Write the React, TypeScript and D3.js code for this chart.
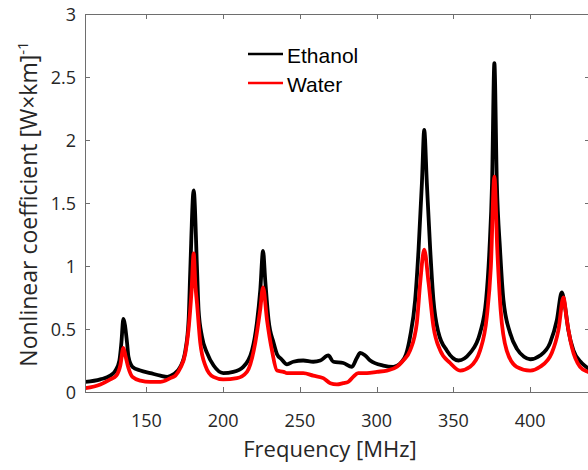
import * as d3 from "d3"
import { useEffect, useRef } from "react"

// Frequency samples (MHz) and values
const ethanolFreq = [
  110.3, 120.0, 126.5, 129.8, 132.4, 133.7, 135.0, 137.4, 138.3, 140.9, 146.1,
  152.6, 159.1, 163.6, 167.6, 172.1, 175.4, 177.5, 178.6, 180.8, 183.0, 184.0,
  186.2, 189.5, 193.8, 200.1, 206.6, 213.1, 218.8, 222.0, 224.2, 226.0, 227.4,
  229.6, 232.9, 235.1, 238.0, 241.6, 245.7, 252.2, 258.7, 263.3, 268.5, 271.8,
  278.3, 283.9, 287.1, 289.3, 292.5, 295.8, 304.3, 310.8, 316.4, 319.2, 321.8,
  325.1, 327.3, 329.5, 331.0, 332.7, 334.9, 337.0, 340.3, 345.7, 353.3, 360.9,
  367.4, 371.3, 373.5, 375.2, 376.7, 378.3, 380.4, 382.6, 386.9, 391.5, 396.0,
  400.0, 406.5, 413.0, 417.4, 420.6, 422.7, 424.9, 428.2, 433.6, 437.6, 440.0,
]
const ethanolValue = [
  0.08, 0.1, 0.13, 0.17, 0.25, 0.39, 0.58, 0.39, 0.28, 0.2, 0.17,
  0.15, 0.13, 0.12, 0.14, 0.2, 0.33, 0.57, 0.97, 1.6, 0.97, 0.65,
  0.44, 0.31, 0.21, 0.15, 0.16, 0.2, 0.33, 0.55, 0.81, 1.12, 0.89,
  0.57, 0.39, 0.3, 0.26, 0.22, 0.24, 0.25, 0.24, 0.25, 0.29, 0.24,
  0.23, 0.2, 0.27, 0.31, 0.29, 0.25, 0.21, 0.2, 0.24, 0.3, 0.44,
  0.73, 1.13, 1.66, 2.08, 1.66, 1.13, 0.73, 0.47, 0.33, 0.25, 0.31,
  0.47, 0.73, 1.13, 1.66, 2.61, 1.66, 1.13, 0.73, 0.47, 0.34, 0.28,
  0.26, 0.29, 0.39, 0.57, 0.79, 0.68, 0.49, 0.33, 0.23, 0.19, 0.17,
]

const waterFreq = [
  110.3, 120.0, 126.5, 130.4, 133.0, 135.0, 136.3, 138.3, 140.9, 146.1, 152.6,
  159.1, 165.6, 168.9, 172.1, 175.4, 177.4, 179.4, 180.8, 181.9, 183.0, 185.1,
  188.4, 193.6, 200.1, 209.0, 215.5, 220.9, 224.1, 226.0, 228.6, 231.8, 235.1,
  239.4, 241.6, 252.2, 258.7, 265.2, 269.8, 274.1, 278.2, 281.5, 284.7, 288.0,
  293.7, 300.2, 306.7, 313.2, 317.3, 321.8, 326.2, 328.4, 331.0, 333.8, 337.0,
  341.4, 347.9, 354.4, 360.9, 367.4, 371.8, 374.4, 376.7, 378.6, 380.8, 384.7,
  391.2, 400.0, 406.5, 414.1, 418.4, 421.7, 423.9, 427.1, 432.5, 437.6, 440.0,
]
const waterValue = [
  0.03, 0.06, 0.1, 0.13, 0.21, 0.35, 0.29, 0.19, 0.12, 0.09, 0.08,
  0.08, 0.11, 0.13, 0.19, 0.31, 0.49, 0.8, 1.1, 0.85, 0.7, 0.39,
  0.21, 0.12, 0.1, 0.11, 0.16, 0.39, 0.65, 0.83, 0.57, 0.33, 0.17,
  0.16, 0.15, 0.15, 0.13, 0.11, 0.07, 0.06, 0.07, 0.08, 0.12, 0.15,
  0.15, 0.16, 0.17, 0.2, 0.25, 0.33, 0.55, 0.87, 1.13, 0.87, 0.52,
  0.33, 0.23, 0.17, 0.2, 0.33, 0.6, 0.99, 1.71, 1.13, 0.65, 0.33,
  0.2, 0.17, 0.2, 0.31, 0.49, 0.75, 0.57, 0.36, 0.2, 0.16, 0.15,
]

const xTicks = [150, 200, 250, 300, 350, 400]
const yTicks = [0, 0.5, 1, 1.5, 2, 2.5, 3]

const series = [
  { name: "Ethanol", color: "#000000", freq: ethanolFreq, value: ethanolValue },
  { name: "Water", color: "#ff0000", freq: waterFreq, value: waterValue },
]

const App = () => {
  const svgRef = useRef<SVGSVGElement | null>(null)

  useEffect(() => {
    if (!svgRef.current) return
    const svg = d3.select(svgRef.current)
    svg.selectAll("*").remove()

    const width = 588
    const height = 470
    const left = 85
    const right = 590
    const top = 14
    const bottom = 392
    const axisColor = "#262626"
    const boxColor = "#6e6e6e"
    const tickFont = "'Open Sans', sans-serif"

    svg.attr("width", width).attr("height", height)

    const x = d3.scaleLinear().domain([110, 439]).range([left, right])
    const y = d3.scaleLinear().domain([0, 3]).range([bottom, top])

    const plot = svg.append("g")

    // Data lines
    const line = d3
      .line<[number, number]>()
      .x((d) => x(d[0]))
      .y((d) => y(d[1]))
      .curve(d3.curveMonotoneX)

    series.forEach((s) => {
      const pts = s.freq.map((f, i) => [f, s.value[i]] as [number, number])
      plot
        .append("path")
        .attr("d", line(pts)!)
        .attr("fill", "none")
        .attr("stroke", s.color)
        .attr("stroke-width", 3.8)
        .attr("stroke-linejoin", "round")
    })

    // Box
    plot
      .append("rect")
      .attr("x", left + 0.5)
      .attr("y", top + 0.5)
      .attr("width", right - left)
      .attr("height", bottom - top)
      .attr("fill", "none")
      .attr("stroke", boxColor)
      .attr("stroke-width", 1)

    // X ticks (inward, bottom + top)
    xTicks.forEach((t) => {
      const xp = Math.round(x(t)) + 0.5
      plot.append("line").attr("x1", xp).attr("x2", xp).attr("y1", bottom).attr("y2", bottom - 5).attr("stroke", boxColor)
      plot.append("line").attr("x1", xp).attr("x2", xp).attr("y1", top).attr("y2", top + 5).attr("stroke", boxColor)
      plot
        .append("text")
        .attr("x", x(t))
        .attr("y", 427)
        .attr("text-anchor", "middle")
        .style("font", `18px ${tickFont}`)
        .attr("fill", axisColor)
        .text(t)
    })

    // Y ticks (inward, left + right)
    yTicks.forEach((t) => {
      const yp = Math.round(y(t)) + 0.5
      plot.append("line").attr("x1", left).attr("x2", left + 5).attr("y1", yp).attr("y2", yp).attr("stroke", boxColor)
      plot.append("line").attr("x1", right).attr("x2", right - 5).attr("y1", yp).attr("y2", yp).attr("stroke", boxColor)
      plot
        .append("text")
        .attr("x", 76)
        .attr("y", y(t) + 6.5)
        .attr("text-anchor", "end")
        .style("font", `18px ${tickFont}`)
        .attr("fill", axisColor)
        .text(String(t))
    })

    // Axis titles
    plot
      .append("text")
      .attr("x", 330)
      .attr("y", 457)
      .attr("text-anchor", "middle")
      .style("font", `22px ${tickFont}`)
      .attr("fill", axisColor)
      .text("Frequency [MHz]")

    const yLabel = plot
      .append("text")
      .attr("transform", `translate(37,204) rotate(-90)`)
      .attr("text-anchor", "middle")
      .style("font", `23px ${tickFont}`)
      .attr("fill", axisColor)
    yLabel.append("tspan").text("Nonlinear coefficient [W×km]")
    yLabel.append("tspan").attr("dy", -9).style("font-size", "15px").text("-1")

    // Legend
    series.forEach((s, i) => {
      const ly = 54 + i * 29
      plot
        .append("line")
        .attr("x1", 248)
        .attr("x2", 283)
        .attr("y1", ly)
        .attr("y2", ly)
        .attr("stroke", s.color)
        .attr("stroke-width", 2.5)
      plot
        .append("text")
        .attr("x", 287)
        .attr("y", ly + 9)
        .style("font", "21px 'Liberation Sans', Arial, sans-serif")
        .attr("fill", "#000")
        .text(s.name)
    })
  }, [])

  return (
    <svg
      ref={svgRef}
      style={{ position: "absolute", left: 0, top: 0, display: "block", background: "#fff" }}
    />
  )
}

export default App
